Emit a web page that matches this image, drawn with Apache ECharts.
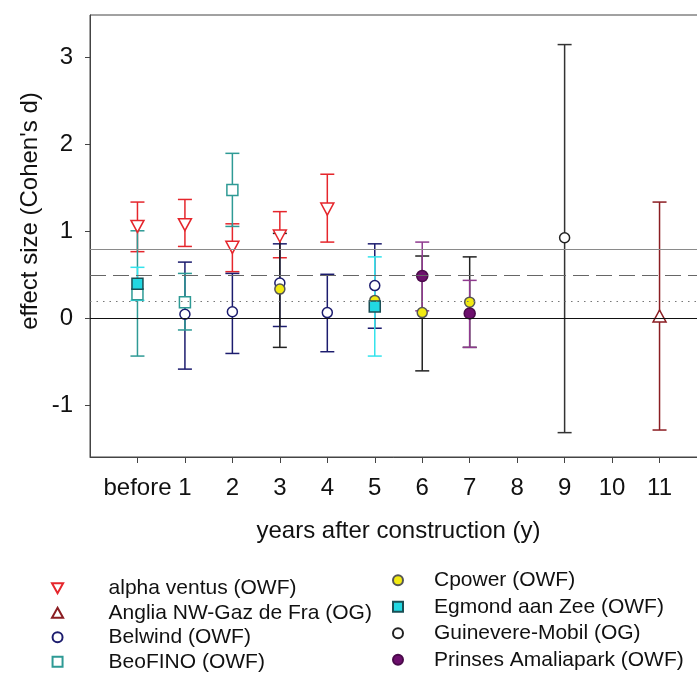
<!DOCTYPE html>
<html><head><meta charset="utf-8">
<script src="https://cdn.jsdelivr.net/npm/echarts@6/dist/echarts.min.js"></script>
<style>html,body{margin:0;padding:0;background:#fff}#c{width:697px;height:675px}</style>
</head><body><div id="c"></div>
<script>
// ---- tick labels ----
const xTickValues = [0,1,2,3,4,5,6,7,8,9,10,11];
const xTickLabels = ['before','1','2','3','4','5','6','7','8','9','10','11'];
const yTickValues = [-1,0,1,2,3];
const refLineValues = [0.8, 0.5, 0.2, 0];

// ---- series (x: 0 = before, then years) ----
const alphaX  = [0, 1, 2, 3, 4];
const alphaY  = [1.06, 1.08, 0.82, 0.95, 1.26];
const alphaLo = [0.77, 0.83, 0.54, 0.70, 0.88];
const alphaHi = [1.34, 1.37, 1.09, 1.23, 1.66];

const angliaX  = [11];
const angliaY  = [0.03];
const angliaLo = [-1.28];
const angliaHi = [1.34];

const belwindX  = [1, 2, 3, 4, 5];
const belwindY  = [0.05, 0.08, 0.41, 0.07, 0.38];
const belwindLo = [-0.58, -0.40, -0.09, -0.38, -0.11];
const belwindHi = [0.65, 0.52, 0.86, 0.51, 0.86];

const beofinoX  = [0, 1, 2];
const beofinoY  = [0.28, 0.19, 1.48];
const beofinoLo = [-0.43, -0.13, 1.06];
const beofinoHi = [1.01, 0.52, 1.90];

const cpowerX  = [3, 5, 6, 7];
const cpowerY  = [0.34, 0.21, 0.07, 0.19];
const cpowerLo = [-0.33, null, -0.60, -0.33];
const cpowerHi = [0.98, null, 0.72, 0.71];

const egmondX  = [0, 5];
const egmondY  = [0.40, 0.14];
const egmondLo = [0.21, -0.43];
const egmondHi = [0.59, 0.71];

const guinevereX  = [9];
const guinevereY  = [0.93];
const guinevereLo = [-1.31];
const guinevereHi = [3.15];

const prinsesX  = [6, 7];
const prinsesY  = [0.49, 0.06];
const prinsesLo = [0.09, -0.33];
const prinsesHi = [0.88, 0.44];

const FONT = '"Liberation Sans", Arial, sans-serif';
const SQ = 'path://M0,0L10,0L10,10L0,10Z';
const TRI_DOWN = 'path://M0,0L10,0L5,9Z';
const TRI_UP = 'path://M5,0L10,9L0,9Z';

function errSeries(name, xs, lo, hi, color) {
  const data = [];
  xs.forEach((x, i) => { if (lo[i] != null) data.push([x, lo[i], hi[i]]); });
  return {
    type: 'custom', name: name + ' CI', data: data, z: 2, silent: true,
    encode: { x: 0, y: [1, 2] },
    renderItem: function (params, api) {
      const x = api.value(0);
      const p1 = api.coord([x, api.value(1)]);
      const p2 = api.coord([x, api.value(2)]);
      const hw = 7;
      const st = { stroke: color, lineWidth: 1.5 };
      return { type: 'group', children: [
        { type: 'line', shape: { x1: p1[0], y1: p1[1], x2: p2[0], y2: p2[1] }, style: st },
        { type: 'line', shape: { x1: p1[0] - hw, y1: p1[1], x2: p1[0] + hw, y2: p1[1] }, style: st },
        { type: 'line', shape: { x1: p2[0] - hw, y1: p2[1], x2: p2[0] + hw, y2: p2[1] }, style: st }
      ]};
    }
  };
}
function ptSeries(name, xs, ys, symbol, size, fill, border) {
  return {
    type: 'scatter', name: name, z: 3, symbol: symbol, symbolSize: size,
    data: xs.map((x, i) => [x, ys[i]]),
    itemStyle: { color: fill, borderColor: border, borderWidth: 1.5, opacity: 1 }
  };
}

const sites = [
  ['alpha ventus (OWF)', alphaX, alphaY, alphaLo, alphaHi, TRI_DOWN, [13,12], '#ffffff', '#e5262c', '#e5262c'],
  ['Anglia NW-Gaz de Fra (OG)', angliaX, angliaY, angliaLo, angliaHi, TRI_UP, [13,12], '#ffffff', '#8b1d22', '#8b1d22'],
  ['Belwind (OWF)', belwindX, belwindY, belwindLo, belwindHi, 'circle', 10, '#ffffff', '#1c1c6e', '#1c1c6e'],
  ['BeoFINO (OWF)', beofinoX, beofinoY, beofinoLo, beofinoHi, SQ, 11, '#ffffff', '#2e9a95', '#2e9a95'],
  ['Cpower (OWF)', cpowerX, cpowerY, cpowerLo, cpowerHi, 'circle', 10, '#f2ea12', '#555555', '#222222'],
  ['Egmond aan Zee (OWF)', egmondX, egmondY, egmondLo, egmondHi, SQ, 11, '#22d8e2', '#1a4f55', '#33e3ec'],
  ['Guinevere-Mobil (OG)', guinevereX, guinevereY, guinevereLo, guinevereHi, 'circle', 10, '#ffffff', '#222222', '#333333'],
  ['Prinses Amaliapark (OWF)', prinsesX, prinsesY, prinsesLo, prinsesHi, 'circle', 11, '#6d0f6d', '#4a0a4a', '#8f3a8f']
];

const series = [{
  type: 'line', name: 'ref', data: [], silent: true, z: 1,
  markLine: {
    silent: true, symbol: 'none', label: { show: false },
    data: [
      { yAxis: refLineValues[0], lineStyle: { color: '#8a8a8a', width: 1.2, type: 'solid' } },
      { yAxis: refLineValues[1], lineStyle: { color: '#666', width: 1.2, type: [16, 7] } },
      { yAxis: refLineValues[2], lineStyle: { color: '#777', width: 1.2, type: [1.5, 5] } },
      { yAxis: refLineValues[3], lineStyle: { color: '#111', width: 1.2, type: 'solid' } }
    ]
  }
}];
sites.forEach(s => series.push(errSeries(s[0], s[1], s[3], s[4], s[9])));
sites.forEach(s => series.push(ptSeries(s[0], s[1], s[2], s[5], s[6], s[7], s[8])));

const chart = echarts.init(document.getElementById('c'), null, { renderer: 'canvas' });
chart.setOption({
  animation: false,
  backgroundColor: '#fff',
  grid: { left: 90, top: 15, width: 617, height: 442, show: true, borderColor: '#444', borderWidth: 1,
    backgroundColor: 'transparent', containLabel: false, outerBoundsMode: 'none' },
  xAxis: {
    type: 'value', min: -1, max: 12,
    axisLine: { show: true, onZero: false, lineStyle: { color: '#444', width: 1 } },
    axisTick: { show: true, customValues: xTickValues, length: 6, lineStyle: { color: '#444' } },
    axisLabel: { customValues: xTickValues, margin: 19, fontSize: 24, color: '#111', fontFamily: FONT,
      formatter: v => xTickLabels[xTickValues.indexOf(v)] },
    splitLine: { show: false },
    name: 'years after construction (y)', nameLocation: 'middle', nameGap: 62,
    nameTextStyle: { fontSize: 24, color: '#111', fontFamily: FONT }
  },
  yAxis: {
    type: 'value', min: -1.59, max: 3.49,
    axisLine: { show: true, onZero: false, lineStyle: { color: '#444', width: 1 } },
    axisTick: { show: true, customValues: yTickValues, length: 5, lineStyle: { color: '#444' } },
    axisLabel: { customValues: yTickValues, margin: 17, fontSize: 24, color: '#111', fontFamily: FONT },
    splitLine: { show: false }
  },
  graphic: [{
    type: 'text', x: 30, y: 211, rotation: Math.PI / 2,
    style: { text: "effect size (Cohen's d)", font: '24px ' + FONT, fill: '#111', align: 'center', verticalAlign: 'middle' }
  }],
  legend: [
    { data: sites.slice(0, 4).map(s => s[0]), orient: 'vertical', left: 51, top: 576, height: 100, padding: 0,
      itemWidth: 12, itemHeight: 10, itemGap: 0, selectedMode: false,
      textStyle: { fontSize: 21, lineHeight: 24.5, color: '#111', fontFamily: FONT, padding: [0, 0, 0, 40] } },
    { data: sites.slice(4).map(s => s[0]), orient: 'vertical', left: 392, top: 567, height: 108, padding: 0,
      itemWidth: 12, itemHeight: 10, itemGap: 0, selectedMode: false,
      textStyle: { fontSize: 21, lineHeight: 26.5, color: '#111', fontFamily: FONT, padding: [0, 0, 0, 25] } }
  ],
  series: series
});
</script></body></html>
